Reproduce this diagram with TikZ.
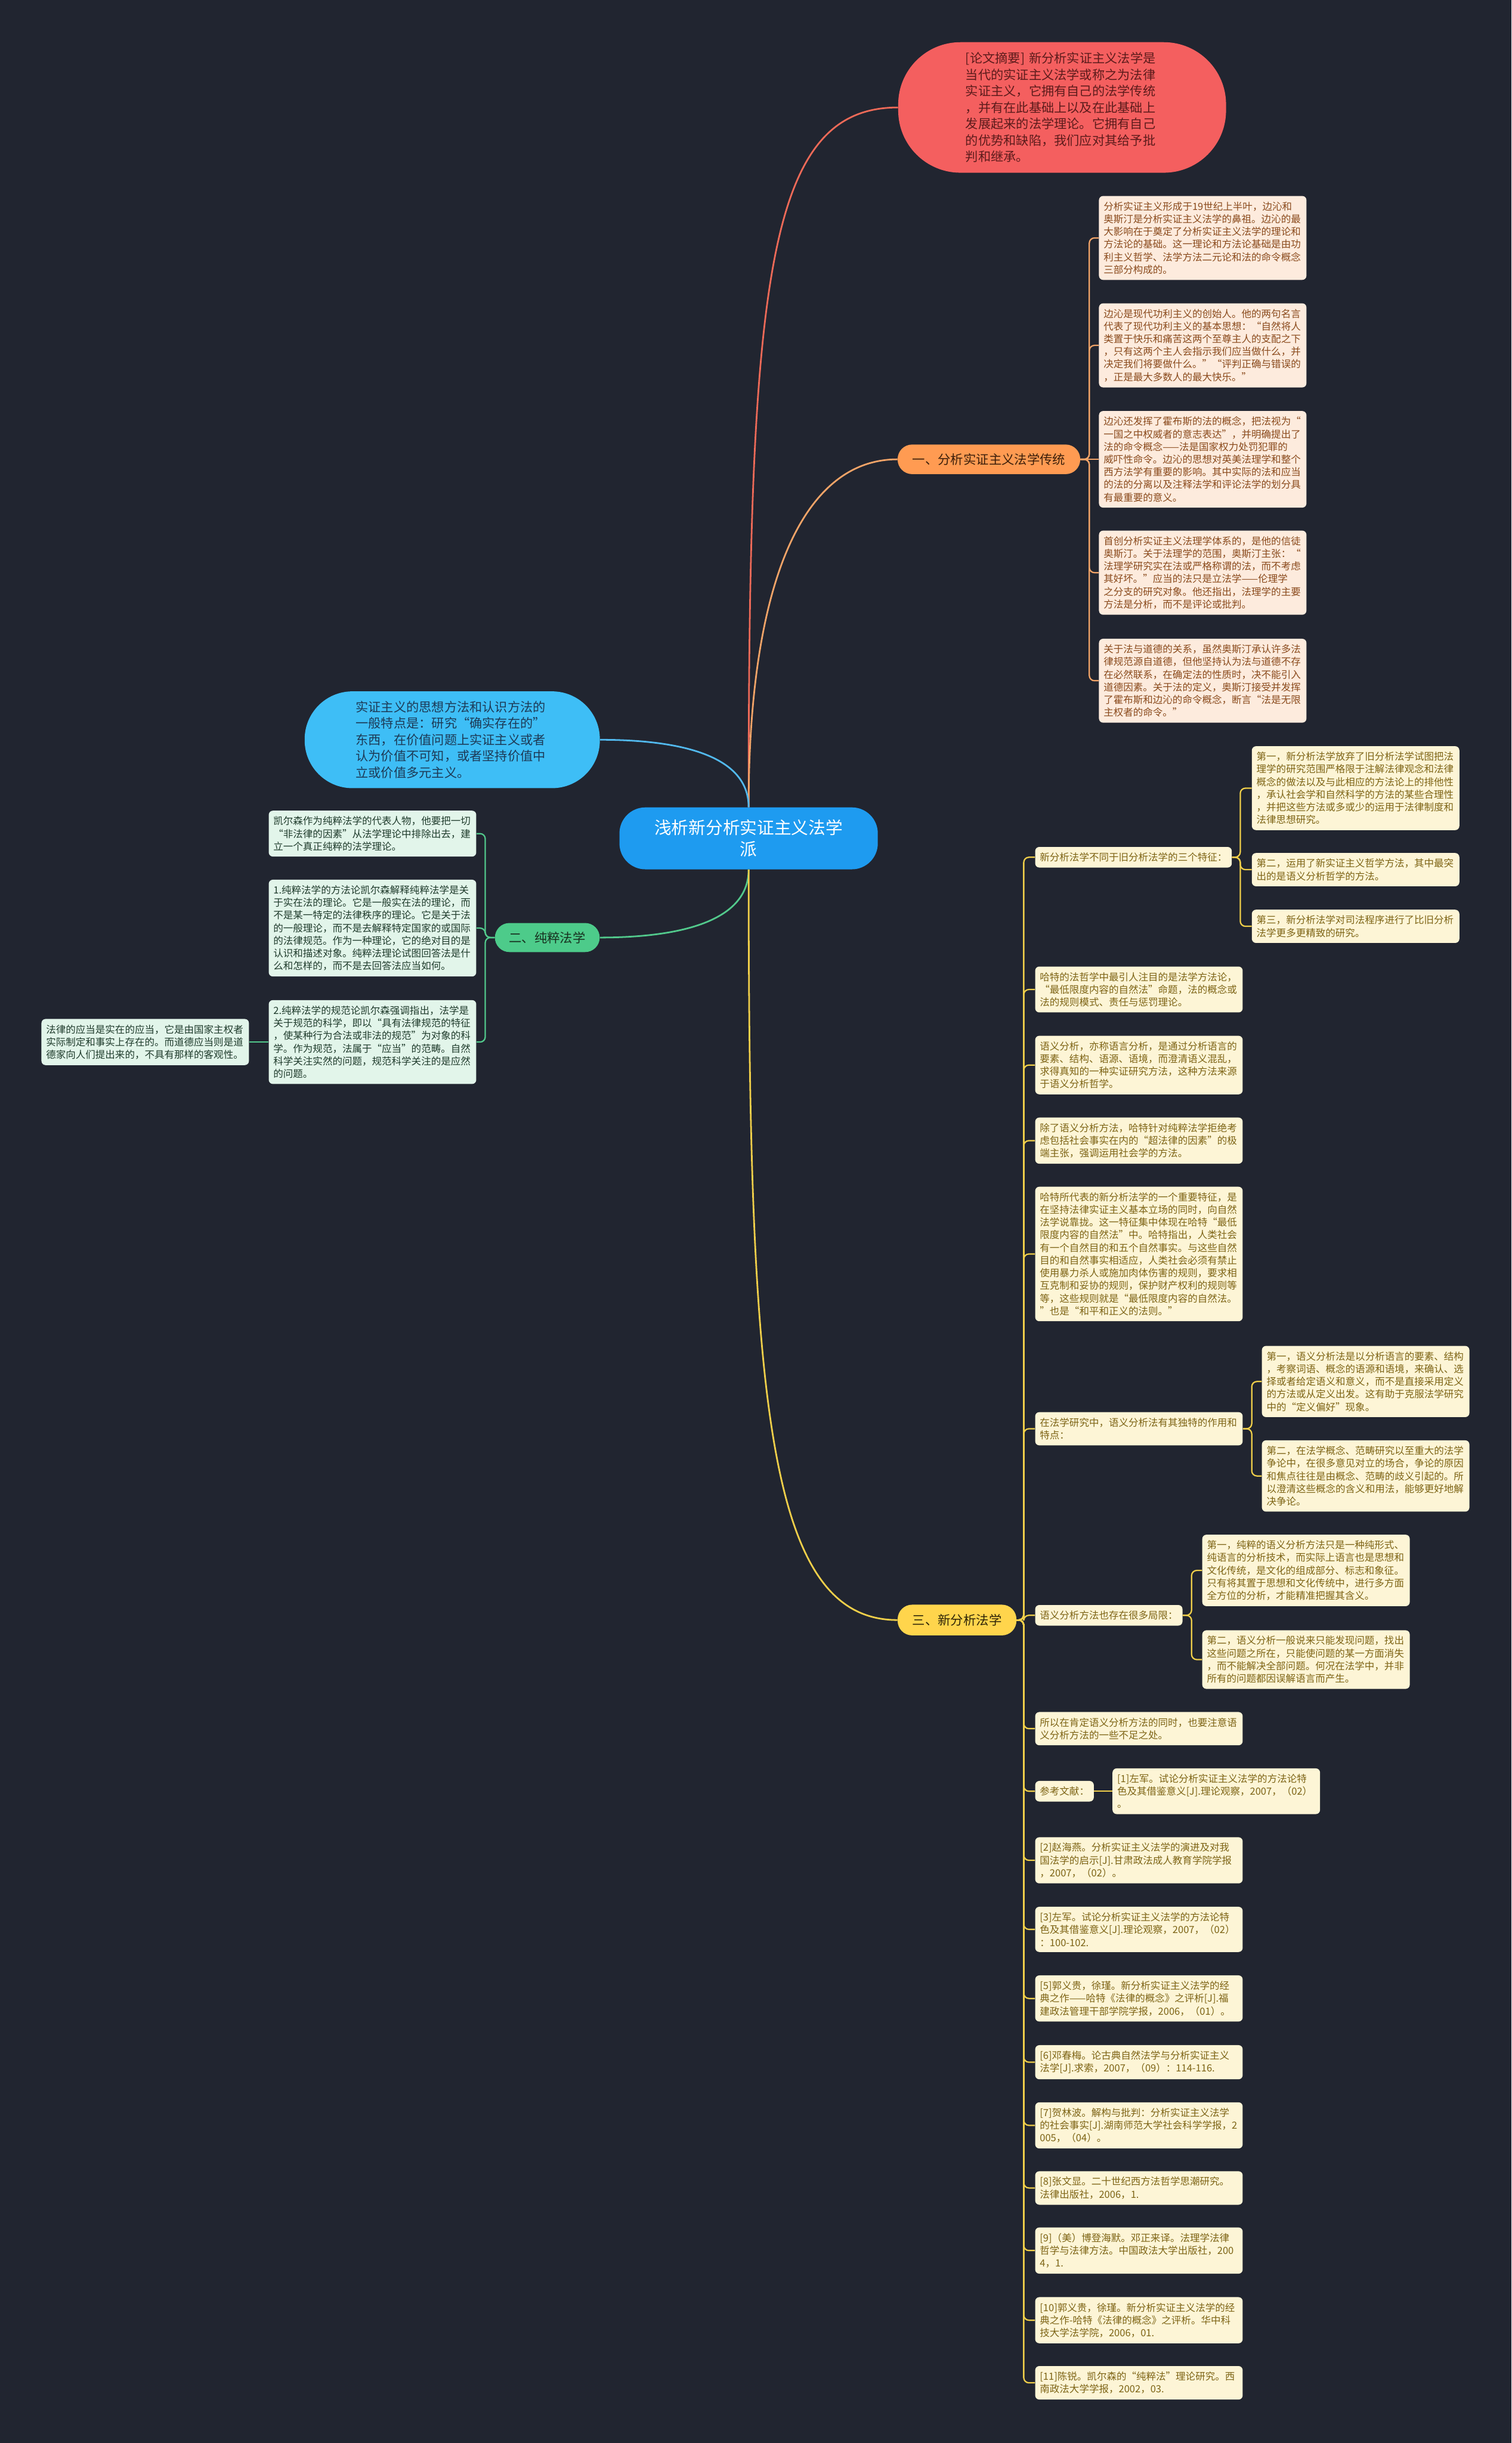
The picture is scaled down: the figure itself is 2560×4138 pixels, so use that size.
\documentclass[tikz,border=0pt]{standalone}
\usepackage{fontspec}
\setmainfont{Noto Sans CJK SC}
\usepackage{xcolor}
\usepackage{tikz}
\definecolor{NightBg}{HTML}{212530}
\definecolor{CoralFill}{HTML}{F45F5F}
\definecolor{CoralInk}{HTML}{5C1B1B}
\definecolor{CoralLine}{HTML}{EE6A58}
\definecolor{SkyFill}{HTML}{3EBEF6}
\definecolor{SkyInk}{HTML}{1D3A56}
\definecolor{SkyLine}{HTML}{52B9EE}
\definecolor{RootFill}{HTML}{1E9BF0}
\definecolor{OrangeFill}{HTML}{FF9B52}
\definecolor{OrangeInk}{HTML}{3B1F0B}
\definecolor{OrangeLine}{HTML}{F2A468}
\definecolor{PeachFill}{HTML}{FDEBDD}
\definecolor{PeachInk}{HTML}{8A4A1C}
\definecolor{MintFill}{HTML}{4DCB8A}
\definecolor{MintInk}{HTML}{17301F}
\definecolor{MintLine}{HTML}{52C98C}
\definecolor{PaleMint}{HTML}{E2F5EA}
\definecolor{PineInk}{HTML}{1F3B2C}
\definecolor{GoldFill}{HTML}{FFD54C}
\definecolor{GoldInk}{HTML}{2E2508}
\definecolor{GoldLine}{HTML}{F0CF4A}
\definecolor{CreamFill}{HTML}{FDF5D6}
\definecolor{OliveInk}{HTML}{7D6415}
\tikzset{
  leaf/.style={rounded corners=4pt,inner xsep=4.5pt,inner ysep=5.5pt,text width=191pt,
    align=left,font=\fontsize{9.5}{12.2}\selectfont},
  leafone/.style={rounded corners=4pt,inner xsep=4.5pt,inner ysep=5.5pt,
    font=\fontsize{9.5}{12.2}\selectfont},
  oleaf/.style={leaf,fill=PeachFill,text=PeachInk,anchor=west},
  gleaf/.style={leaf,fill=PaleMint,text=PineInk,anchor=east},
  yleaf/.style={leaf,fill=CreamFill,text=OliveInk,anchor=west},
  yline/.style={leafone,fill=CreamFill,text=OliveInk,anchor=west},
  branch/.style={rounded corners=14pt,inner sep=0pt,font=\fontsize{12.3}{15}\selectfont},
  bigbox/.style={inner sep=0pt,align=left,font=\fontsize{12.2}{15.8}\selectfont},
  mainlink/.style={line width=1.6pt},
  olink/.style={line width=1.3pt,OrangeLine,rounded corners=5pt},
  glink/.style={line width=1.3pt,MintLine,rounded corners=5pt},
  ylink/.style={line width=1.3pt,GoldLine,rounded corners=5pt}
}
\begin{document}
\begin{tikzpicture}[x=0.2mm,y=-0.2mm]
  \fill[NightBg] (0,0) rectangle (2560,4138);
  \useasboundingbox (0,0) rectangle (2560,4138);

  \node[font=\fontsize{16.5}{21}\selectfont,align=center,text=white,fill=RootFill,rounded corners=25pt,
    minimum width=249pt,minimum height=59.7pt,inner sep=0pt] (ctr) at (1268,1420) {浅析新分析实证主义法学\\派};

  \node[bigbox,fill=CoralFill,text=CoralInk,text width=186pt,rounded corners=60pt,
    minimum width=316pt,minimum height=125.8pt] (abs) at (1799,182)
    {[论文摘要]~新分析实证主义法学是\\当代的实证主义法学或称之为法律\\实证主义，它拥有自己的法学传统\\，并有在此基础上以及在此基础上\\发展起来的法学理论。它拥有自己\\的优势和缺陷，我们应对其给予批\\判和继承。};
  \node[bigbox,fill=SkyFill,text=SkyInk,text width=186pt,rounded corners=46pt,
    minimum width=284.5pt,minimum height=93.3pt] (idea) at (766,1253)
    {实证主义的思想方法和认识方法的\\一般特点是：研究“确实存在的”\\东西，在价值问题上实证主义或者\\认为价值不可知，或者坚持价值中\\立或价值多元主义。};

  \node[branch,fill=OrangeFill,text=OrangeInk,minimum width=176pt,minimum height=28.5pt] (b1) at (1675,778) {一、分析实证主义法学传统};
  \node[branch,fill=MintFill,text=MintInk,minimum width=101pt,minimum height=28pt] (b2) at (927,1588) {二、纯粹法学};
  \node[branch,fill=GoldFill,text=GoldInk,minimum width=114.5pt,minimum height=29.6pt] (b3) at (1621,2744) {三、新分析法学};

  \draw[mainlink,CoralLine] (ctr.north) .. controls +(0,-900) and +(-220,0) .. (abs.west);
  \draw[mainlink,OrangeLine] (ctr.north) .. controls +(0,-380) and +(-160,0) .. (b1.west);
  \draw[mainlink,SkyLine] (ctr.north) .. controls +(0,-90) and +(130,0) .. (idea.east);
  \draw[mainlink,MintLine] (ctr.south) .. controls +(0,90) and +(130,0) .. (b2.east);
  \draw[mainlink,GoldLine] (ctr.south) .. controls +(0,900) and +(-220,0) .. (b3.west);

  \node[oleaf] (o1) at (1861,403) {分析实证主义形成于19世纪上半叶，边沁和\\奥斯汀是分析实证主义法学的鼻祖。边沁的最\\大影响在于奠定了分析实证主义法学的理论和\\方法论的基础。这一理论和方法论基础是由功\\利主义哲学、法学方法二元论和法的命令概念\\三部分构成的。};
  \node[oleaf] (o2) at (1861,585) {边沁是现代功利主义的创始人。他的两句名言\\代表了现代功利主义的基本思想：“自然将人\\类置于快乐和痛苦这两个至尊主人的支配之下\\，只有这两个主人会指示我们应当做什么，并\\决定我们将要做什么。”“评判正确与错误的\\，正是最大多数人的最大快乐。”};
  \node[oleaf] (o3) at (1861,778) {边沁还发挥了霍布斯的法的概念，把法视为“\\一国之中权威者的意志表达”，并明确提出了\\法的命令概念——法是国家权力处罚犯罪的\\威吓性命令。边沁的思想对英美法理学和整个\\西方法学有重要的影响。其中实际的法和应当\\的法的分离以及注释法学和评论法学的划分具\\有最重要的意义。};
  \node[oleaf] (o4) at (1861,970) {首创分析实证主义法理学体系的，是他的信徒\\奥斯汀。关于法理学的范围，奥斯汀主张：“\\法理学研究实在法或严格称谓的法，而不考虑\\其好坏。”应当的法只是立法学——伦理学\\之分支的研究对象。他还指出，法理学的主要\\方法是分析，而不是评论或批判。};
  \node[oleaf] (o5) at (1861,1153) {关于法与道德的关系，虽然奥斯汀承认许多法\\律规范源自道德，但他坚持认为法与道德不存\\在必然联系，在确定法的性质时，决不能引入\\道德因素。关于法的定义，奥斯汀接受并发挥\\了霍布斯和边沁的命令概念，断言“法是无限\\主权者的命令。”};
  \draw[olink] (b1.east) -- ++(15,0) |- (o1.west);
  \draw[olink] (b1.east) -- ++(15,0) |- (o2.west);
  \draw[olink] (b1.east) -- (o3.west);
  \draw[olink] (b1.east) -- ++(15,0) |- (o4.west);
  \draw[olink] (b1.east) -- ++(15,0) |- (o5.west);

  \node[gleaf] (g1) at (807,1412) {凯尔森作为纯粹法学的代表人物，他要把一切\\“非法律的因素”从法学理论中排除出去，建\\立一个真正纯粹的法学理论。};
  \node[gleaf] (g2) at (807,1572) {1.纯粹法学的方法论凯尔森解释纯粹法学是关\\于实在法的理论。它是一般实在法的理论，而\\不是某一特定的法律秩序的理论。它是关于法\\的一般理论，而不是去解释特定国家的或国际\\的法律规范。作为一种理论，它的绝对目的是\\认识和描述对象。纯粹法理论试图回答法是什\\么和怎样的，而不是去回答法应当如何。};
  \node[gleaf] (g3) at (807,1765) {2.纯粹法学的规范论凯尔森强调指出，法学是\\关于规范的科学，即以“具有法律规范的特征\\，使某种行为合法或非法的规范”为对象的科\\学。作为规范，法属于“应当”的范畴。自然\\科学关注实然的问题，规范科学关注的是应然\\的问题。};
  \node[gleaf] (g4) at (422,1765) {法律的应当是实在的应当，它是由国家主权者\\实际制定和事实上存在的。而道德应当则是道\\德家向人们提出来的，不具有那样的客观性。};
  \draw[glink] (b2.west) -- ++(-16,0) |- (g1.east);
  \draw[glink] (b2.west) -- ++(-16,0) |- (g2.east);
  \draw[glink] (b2.west) -- ++(-16,0) |- (g3.east);
  \draw[glink] (g3.west) -- (g4.east);

  \node[yline] (y1) at (1753,1452) {新分析法学不同于旧分析法学的三个特征：};
  \node[yleaf] (y1a) at (2120,1335) {第一，新分析法学放弃了旧分析法学试图把法\\理学的研究范围严格限于注解法律观念和法律\\概念的做法以及与此相应的方法论上的排他性\\，承认社会学和自然科学的方法的某些合理性\\，并把这些方法或多或少的运用于法律制度和\\法律思想研究。};
  \node[yleaf] (y1b) at (2120,1473) {第二，运用了新实证主义哲学方法，其中最突\\出的是语义分析哲学的方法。};
  \node[yleaf] (y1c) at (2120,1569) {第三，新分析法学对司法程序进行了比旧分析\\法学更多更精致的研究。};
  \node[yleaf] (y2) at (1753,1676) {哈特的法哲学中最引人注目的是法学方法论，\\“最低限度内容的自然法”命题，法的概念或\\法的规则模式、责任与惩罚理论。};
  \node[yleaf] (y3) at (1753,1804) {语义分析，亦称语言分析，是通过分析语言的\\要素、结构、语源、语境，而澄清语义混乱，\\求得真知的一种实证研究方法，这种方法来源\\于语义分析哲学。};
  \node[yleaf] (y4) at (1753,1932) {除了语义分析方法，哈特针对纯粹法学拒绝考\\虑包括社会事实在内的“超法律的因素”的极\\端主张，强调运用社会学的方法。};
  \node[yleaf] (y5) at (1753,2124) {哈特所代表的新分析法学的一个重要特征，是\\在坚持法律实证主义基本立场的同时，向自然\\法学说靠拢。这一特征集中体现在哈特“最低\\限度内容的自然法”中。哈特指出，人类社会\\有一个自然目的和五个自然事实。与这些自然\\目的和自然事实相适应，人类社会必须有禁止\\使用暴力杀人或施加肉体伤害的规则，要求相\\互克制和妥协的规则，保护财产权利的规则等\\等，这些规则就是“最低限度内容的自然法。\\”也是“和平和正义的法则。”};
  \node[yleaf] (y6) at (1753,2420) {在法学研究中，语义分析法有其独特的作用和\\特点：};
  \node[yleaf] (y6a) at (2137,2340) {第一，语义分析法是以分析语言的要素、结构\\，考察词语、概念的语源和语境，来确认、选\\择或者给定语义和意义，而不是直接采用定义\\的方法或从定义出发。这有助于克服法学研究\\中的“定义偏好”现象。};
  \node[yleaf] (y6b) at (2137,2500) {第二，在法学概念、范畴研究以至重大的法学\\争论中，在很多意见对立的场合，争论的原因\\和焦点往往是由概念、范畴的歧义引起的。所\\以澄清这些概念的含义和用法，能够更好地解\\决争论。};
  \node[yline] (y7) at (1753,2736) {语义分析方法也存在很多局限：};
  \node[yleaf] (y7a) at (2036,2660) {第一，纯粹的语义分析方法只是一种纯形式、\\纯语言的分析技术，而实际上语言也是思想和\\文化传统，是文化的组成部分、标志和象征。\\只有将其置于思想和文化传统中，进行多方面\\全方位的分析，才能精准把握其含义。};
  \node[yleaf] (y7b) at (2036,2811) {第二，语义分析一般说来只能发现问题，找出\\这些问题之所在，只能使问题的某一方面消失\\，而不能解决全部问题。何况在法学中，并非\\所有的问题都因误解语言而产生。};
  \node[yleaf] (y8) at (1753,2928) {所以在肯定语义分析方法的同时，也要注意语\\义分析方法的一些不足之处。};
  \node[yline] (y9) at (1753,3034) {参考文献：};
  \node[yleaf] (y9a) at (1884,3034) {[1]左军。试论分析实证主义法学的方法论特\\色及其借鉴意义[J].理论观察，2007，（02）\\。};
  \node[yleaf] (y10) at (1753,3151) {[2]赵海燕。分析实证主义法学的演进及对我\\国法学的启示[J].甘肃政法成人教育学院学报\\，2007，（02）。};
  \node[yleaf] (y11) at (1753,3268) {[3]左军。试论分析实证主义法学的方法论特\\色及其借鉴意义[J].理论观察，2007，（02）\\：100-102.};
  \node[yleaf] (y12) at (1753,3385) {[5]郭义贵，徐瑾。新分析实证主义法学的经\\典之作——哈特《法律的概念》之评析[J].福\\建政法管理干部学院学报，2006，（01）。};
  \node[yleaf] (y13) at (1753,3493) {[6]邓春梅。论古典自然法学与分析实证主义\\法学[J].求索，2007，（09）：114-116.};
  \node[yleaf] (y14) at (1753,3600) {[7]贺林波。解构与批判：分析实证主义法学\\的社会事实[J].湖南师范大学社会科学学报，2\\005，（04）。};
  \node[yleaf] (y15) at (1753,3706) {[8]张文显。二十世纪西方法哲学思潮研究。\\法律出版社，2006，1.};
  \node[yleaf] (y16) at (1753,3812) {[9]（美）博登海默。邓正来译。法理学法律\\哲学与法律方法。中国政法大学出版社，200\\4，1.};
  \node[yleaf] (y17) at (1753,3930) {[10]郭义贵，徐瑾。新分析实证主义法学的经\\典之作-哈特《法律的概念》之评析。华中科\\技大学法学院，2006，01.};
  \node[yleaf] (y18) at (1753,4036) {[11]陈锐。凯尔森的“纯粹法”理论研究。西\\南政法大学学报，2002，03.};

  \draw[ylink] (b3.east) -- ++(12,0) |- (y1.west);
  \draw[ylink] (b3.east) -- ++(12,0) |- (y2.west);
  \draw[ylink] (b3.east) -- ++(12,0) |- (y3.west);
  \draw[ylink] (b3.east) -- ++(12,0) |- (y4.west);
  \draw[ylink] (b3.east) -- ++(12,0) |- (y5.west);
  \draw[ylink] (b3.east) -- ++(12,0) |- (y6.west);
  \draw[ylink] (b3.east) -- ++(12,0) |- (y7.west);
  \draw[ylink] (b3.east) -- ++(12,0) |- (y8.west);
  \draw[ylink] (b3.east) -- ++(12,0) |- (y9.west);
  \draw[ylink] (b3.east) -- ++(12,0) |- (y10.west);
  \draw[ylink] (b3.east) -- ++(12,0) |- (y11.west);
  \draw[ylink] (b3.east) -- ++(12,0) |- (y12.west);
  \draw[ylink] (b3.east) -- ++(12,0) |- (y13.west);
  \draw[ylink] (b3.east) -- ++(12,0) |- (y14.west);
  \draw[ylink] (b3.east) -- ++(12,0) |- (y15.west);
  \draw[ylink] (b3.east) -- ++(12,0) |- (y16.west);
  \draw[ylink] (b3.east) -- ++(12,0) |- (y17.west);
  \draw[ylink] (b3.east) -- ++(12,0) |- (y18.west);
  \draw[ylink] (y1.east) -- ++(14,0) |- (y1a.west);
  \draw[ylink] (y1.east) -- ++(14,0) |- (y1b.west);
  \draw[ylink] (y1.east) -- ++(14,0) |- (y1c.west);
  \draw[ylink] (y6.east) -- ++(15,0) |- (y6a.west);
  \draw[ylink] (y6.east) -- ++(15,0) |- (y6b.west);
  \draw[ylink] (y7.east) -- ++(15,0) |- (y7a.west);
  \draw[ylink] (y7.east) -- ++(15,0) |- (y7b.west);
  \draw[ylink] (y9.east) -- (y9a.west);
\end{tikzpicture}
\end{document}
